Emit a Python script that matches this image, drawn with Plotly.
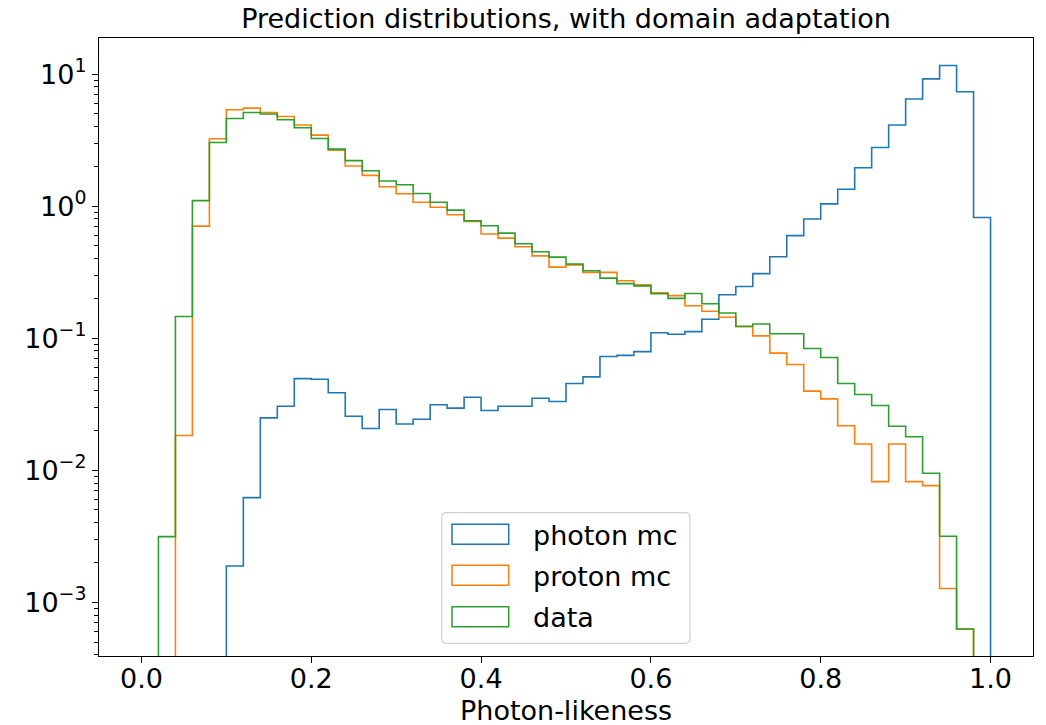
import numpy as np
import plotly.graph_objects as go

# ---------------- data ----------------
bin_edges = [round(0.02 * i, 2) for i in range(51)]

photon_mc = [0, 0, 0, 0, 0, 0.00188, 0.0062, 0.0249, 0.0305, 0.0494,
             0.0489, 0.0386, 0.0256, 0.0207, 0.0288, 0.0224, 0.0243, 0.0313, 0.0295, 0.0357,
             0.0283, 0.0305, 0.0305, 0.0351, 0.0331, 0.0453, 0.0509, 0.0727, 0.0740, 0.0791,
             0.110, 0.107, 0.112, 0.139, 0.213, 0.246, 0.308, 0.413, 0.598, 0.798,
             1.04, 1.34, 1.95, 2.78, 4.11, 6.47, 9.2, 11.6, 7.35, 0.82]

proton_mc = [0, 0, 0.0183, 0.705, 3.24, 5.37, 5.52, 5.12, 4.77, 4.11,
             3.45, 2.65, 2.01, 1.71, 1.40, 1.24, 1.07, 0.98, 0.86, 0.764,
             0.614, 0.572, 0.492, 0.420, 0.345, 0.359, 0.315, 0.315, 0.272, 0.254,
             0.221, 0.210, 0.176, 0.160, 0.144, 0.122, 0.104, 0.0770, 0.0631, 0.0397,
             0.0347, 0.0217, 0.0158, 0.0082, 0.0158, 0.0082, 0.00764, 0.00127, 0.000628, 0]

data_counts = [0, 0.00314, 0.146, 1.10, 3.03, 4.61, 5.12, 4.98, 4.51, 3.92,
               3.25, 2.70, 2.21, 1.85, 1.55, 1.45, 1.245, 1.07, 0.933, 0.774,
               0.709, 0.624, 0.518, 0.451, 0.411, 0.364, 0.324, 0.285, 0.259, 0.249,
               0.217, 0.200, 0.218, 0.182, 0.155, 0.123, 0.128, 0.108, 0.108, 0.0834,
               0.0713, 0.0453, 0.0374, 0.0309, 0.0215, 0.0179, 0.00949, 0.00316, 0.000628, 0]

series_names = ["photon mc", "proton mc", "data"]
series_values = [photon_mc, proton_mc, data_counts]
series_colors = ["#1f77b4", "#ff7f0e", "#2ca02c"]

x_ticks = [0.0, 0.2, 0.4, 0.6, 0.8, 1.0]
y_ticks = [1e-3, 1e-2, 1e-1, 1e0, 1e1]
y_tick_text = ["10<sup>\u22123</sup>", "10<sup>\u22122</sup>", "10<sup>\u22121</sup>",
               "10<sup>0</sup>", "10<sup>1</sup>"]

title_text = "Prediction distributions, with domain adaptation"
x_label = "Photon-likeness"

# ---------------- figure ----------------
FONT = "DejaVu Sans"
FLOOR = 1e-7  # stands for an empty bin (zero count) on the log axis

fig = go.Figure()


def step_xy(edges, counts):
    c = [v if v > 0 else FLOOR for v in counts]
    xs = [edges[0]] + list(edges[:-1]) + [edges[-1], edges[-1]]
    ys = [FLOOR] + c + [c[-1], FLOOR]
    return xs, ys


for name, vals, col in zip(series_names, series_values, series_colors):
    xs, ys = step_xy(bin_edges, vals)
    fig.add_trace(go.Scatter(x=xs, y=ys, mode="lines", name=name,
                             line=dict(color=col, width=1.6, shape="hv"),
                             showlegend=False, hoverinfo="skip"))

minor_vals = [k * 10.0 ** d for d in range(-4, 2) for k in range(2, 10)]

fig.update_xaxes(range=[-0.05, 1.05], tickvals=x_ticks,
                 ticktext=[f"{v:.1f}" for v in x_ticks], automargin=False,
                 showgrid=False, zeroline=False, showline=True, linecolor="black",
                 linewidth=1.3, mirror=True, ticks="outside", ticklen=6, tickwidth=1.3,
                 tickcolor="black", tickfont=dict(family=FONT, size=27, color="black"),
                 ticklabelstandoff=-8)

fig.update_yaxes(type="log", range=[-3.407, 1.273], tickvals=y_ticks, ticktext=y_tick_text,
                 automargin=False,
                 showgrid=False, zeroline=False, showline=True, linecolor="black",
                 linewidth=1.3, mirror=True, ticks="outside", ticklen=6, tickwidth=1.3,
                 tickcolor="black", tickfont=dict(family=FONT, size=27, color="black"),
                 minor=dict(tickvals=minor_vals, ticks="outside", ticklen=3.5, tickwidth=1,
                            tickcolor="black", showgrid=False))

# ---------------- legend (matplotlib-style, drawn manually) ----------------
W, H = 1046, 725
L, R, T, B = 99, 13, 38, 69
PW, PH = W - L - R, H - T - B


def px(x):
    return (x - L) / PW


def py(y):
    return (H - B - y) / PH


# x-axis label as a positioned text
fig.add_annotation(x=0.5, y=py(711), xref="paper", yref="paper", text=x_label,
                   showarrow=False, xanchor="center", yanchor="middle",
                   font=dict(family=FONT, size=27, color="black"))

bx0, bx1, by0, by1 = 441.7, 690.0, 512.7, 643.3
r = 5
rx, ry = r / PW, r / PH
X0, X1, Y0, Y1 = px(bx0), px(bx1), py(by1), py(by0)
path = (f"M{X0+rx},{Y0} L{X1-rx},{Y0} Q{X1},{Y0} {X1},{Y0+ry} "
        f"L{X1},{Y1-ry} Q{X1},{Y1} {X1-rx},{Y1} L{X0+rx},{Y1} "
        f"Q{X0},{Y1} {X0},{Y1-ry} L{X0},{Y0+ry} Q{X0},{Y0} {X0+rx},{Y0} Z")
fig.add_shape(type="path", path=path, xref="paper", yref="paper",
              line=dict(color="#d0d0d0", width=1.2), fillcolor="rgba(255,255,255,0.8)",
              layer="above")

row_centers = [534.3, 575.3, 616.7]
for name, col, yc in zip(series_names, series_colors, row_centers):
    fig.add_shape(type="rect", xref="paper", yref="paper",
                  x0=px(452.0), x1=px(508.7), y0=py(yc + 10), y1=py(yc - 10),
                  line=dict(color=col, width=1.5), fillcolor="rgba(0,0,0,0)", layer="above")
    fig.add_annotation(x=px(530.5), y=py(yc + 1), xref="paper", yref="paper",
                       text=name, showarrow=False, xanchor="left", yanchor="middle",
                       font=dict(family=FONT, size=27, color="black"))

fig.update_layout(
    width=W, height=H,
    margin=dict(l=L, r=R, t=T, b=B, autoexpand=False),
    paper_bgcolor="white", plot_bgcolor="white",
    title=dict(text=title_text, x=0.5, xref="paper", xanchor="center",
               y=1 - 19 / H, yref="container", yanchor="middle",
               font=dict(family=FONT, size=27, color="black")),
    showlegend=False,
)

fig.write_html("out.html")
